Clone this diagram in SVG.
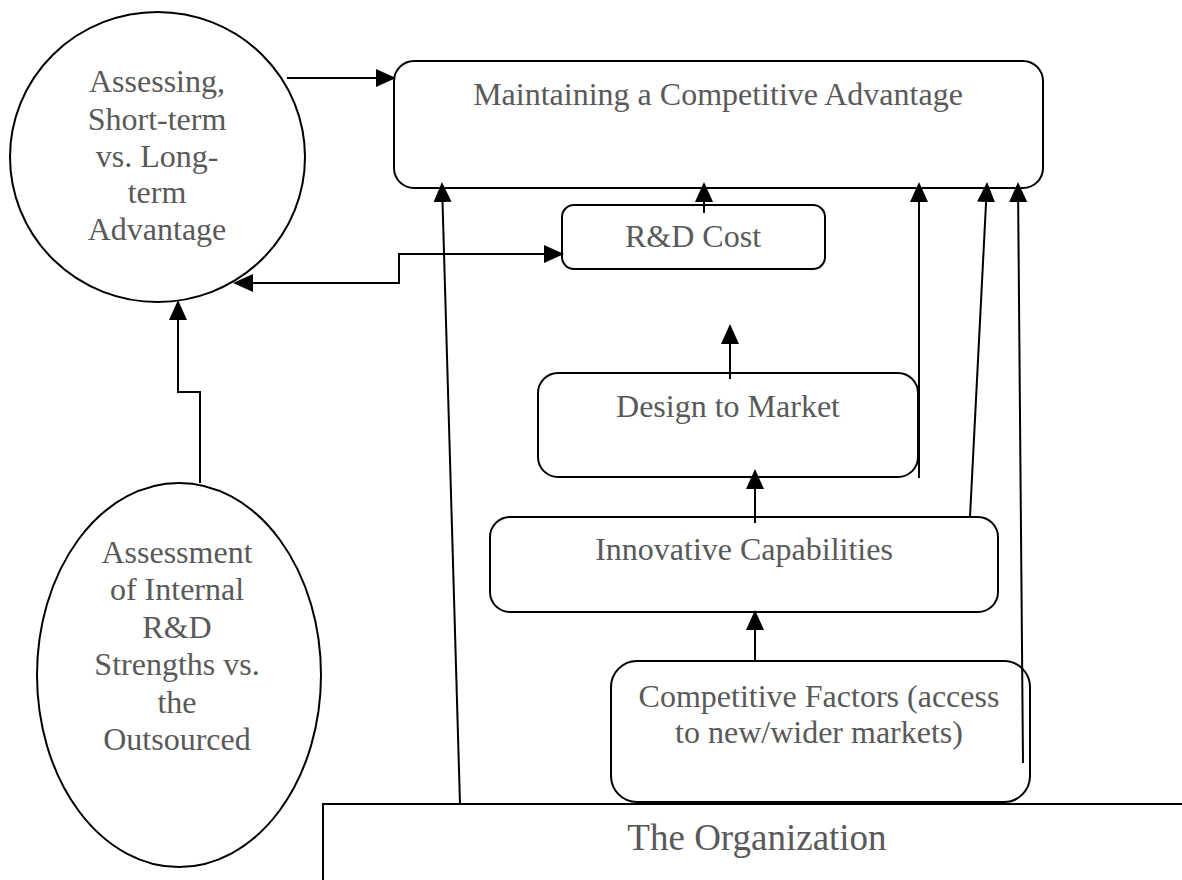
<svg xmlns="http://www.w3.org/2000/svg" width="1182" height="880" viewBox="0 0 1182 880">
  <style>
    .shape { fill: #ffffff; stroke: #000000; stroke-width: 2; }
    .label { font-family: "Liberation Serif", "Times New Roman", serif; font-size: 32px; fill: #595959; text-anchor: middle; }
    .link { fill: none; stroke: #000000; stroke-width: 2; }
    .arrow { marker-end: url(#head); }
  </style>
  <defs>
    <marker id="head" viewBox="0 0 20 18" refX="18" refY="9" markerWidth="20" markerHeight="18" markerUnits="userSpaceOnUse" orient="auto-start-reverse">
      <path d="M0,0 L20,9 L0,18 Z" fill="#000000"/>
    </marker>
  </defs>
  <rect width="1182" height="880" fill="#ffffff"/>

  <!-- base block -->
  <g id="organization">
    <rect class="shape" x="323" y="804" width="880" height="90"/>
    <text class="label" x="757" y="850" style="font-size:37px">The Organization</text>
  </g>

  <g id="assessing">
    <ellipse class="shape" cx="157.5" cy="157" rx="147.5" ry="145"/>
    <text class="label" x="157" y="92">Assessing,</text>
    <text class="label" x="157" y="130">Short-term</text>
    <text class="label" x="157" y="167">vs. Long-</text>
    <text class="label" x="157" y="203">term</text>
    <text class="label" x="157" y="240">Advantage</text>
  </g>

  <g id="assessment">
    <ellipse class="shape" cx="179" cy="675" rx="142" ry="192"/>
    <text class="label" x="177" y="563">Assessment</text>
    <text class="label" x="177" y="600">of Internal</text>
    <text class="label" x="177" y="638">R&amp;D</text>
    <text class="label" x="177" y="675">Strengths vs.</text>
    <text class="label" x="177" y="713">the</text>
    <text class="label" x="177" y="750">Outsourced</text>
  </g>

  <g id="maintaining">
    <rect class="shape" x="394" y="61" width="649" height="127" rx="20"/>
    <text class="label" x="718" y="105">Maintaining a Competitive Advantage</text>
  </g>

  <g id="rd-cost">
    <rect class="shape" x="562" y="205" width="263" height="64" rx="12"/>
    <text class="label" x="693" y="247">R&amp;D Cost</text>
  </g>

  <g id="design">
    <rect class="shape" x="538" y="373" width="380" height="104" rx="20"/>
    <text class="label" x="728" y="417">Design to Market</text>
  </g>

  <g id="innovative">
    <rect class="shape" x="490" y="517" width="508" height="95" rx="20"/>
    <text class="label" x="744" y="560">Innovative Capabilities</text>
  </g>

  <g id="competitive">
    <rect class="shape" x="611" y="661" width="419" height="141" rx="26"/>
    <text class="label" x="819" y="707">Competitive Factors (access</text>
    <text class="label" x="819" y="743">to new/wider markets)</text>
  </g>

  <g id="connectors">
    <line class="link arrow" x1="287" y1="78" x2="394" y2="78"/>
    <path class="link arrow" d="M200,483 V392 H178 V302"/>
    <path class="link arrow" d="M235,283 H399 V254 H562" style="marker-start:url(#head)"/>
    <line class="link arrow" x1="704" y1="213" x2="704" y2="184"/>
    <line class="link arrow" x1="730" y1="379" x2="730" y2="326"/>
    <line class="link arrow" x1="755" y1="523" x2="755" y2="471"/>
    <line class="link arrow" x1="755" y1="661" x2="755" y2="612"/>
    <line class="link arrow" x1="460" y1="804" x2="442" y2="184"/>
    <line class="link arrow" x1="919" y1="478" x2="919" y2="184"/>
    <line class="link arrow" x1="970" y1="517" x2="987" y2="184"/>
    <line class="link arrow" x1="1023" y1="763" x2="1018" y2="184"/>
  </g>
</svg>
